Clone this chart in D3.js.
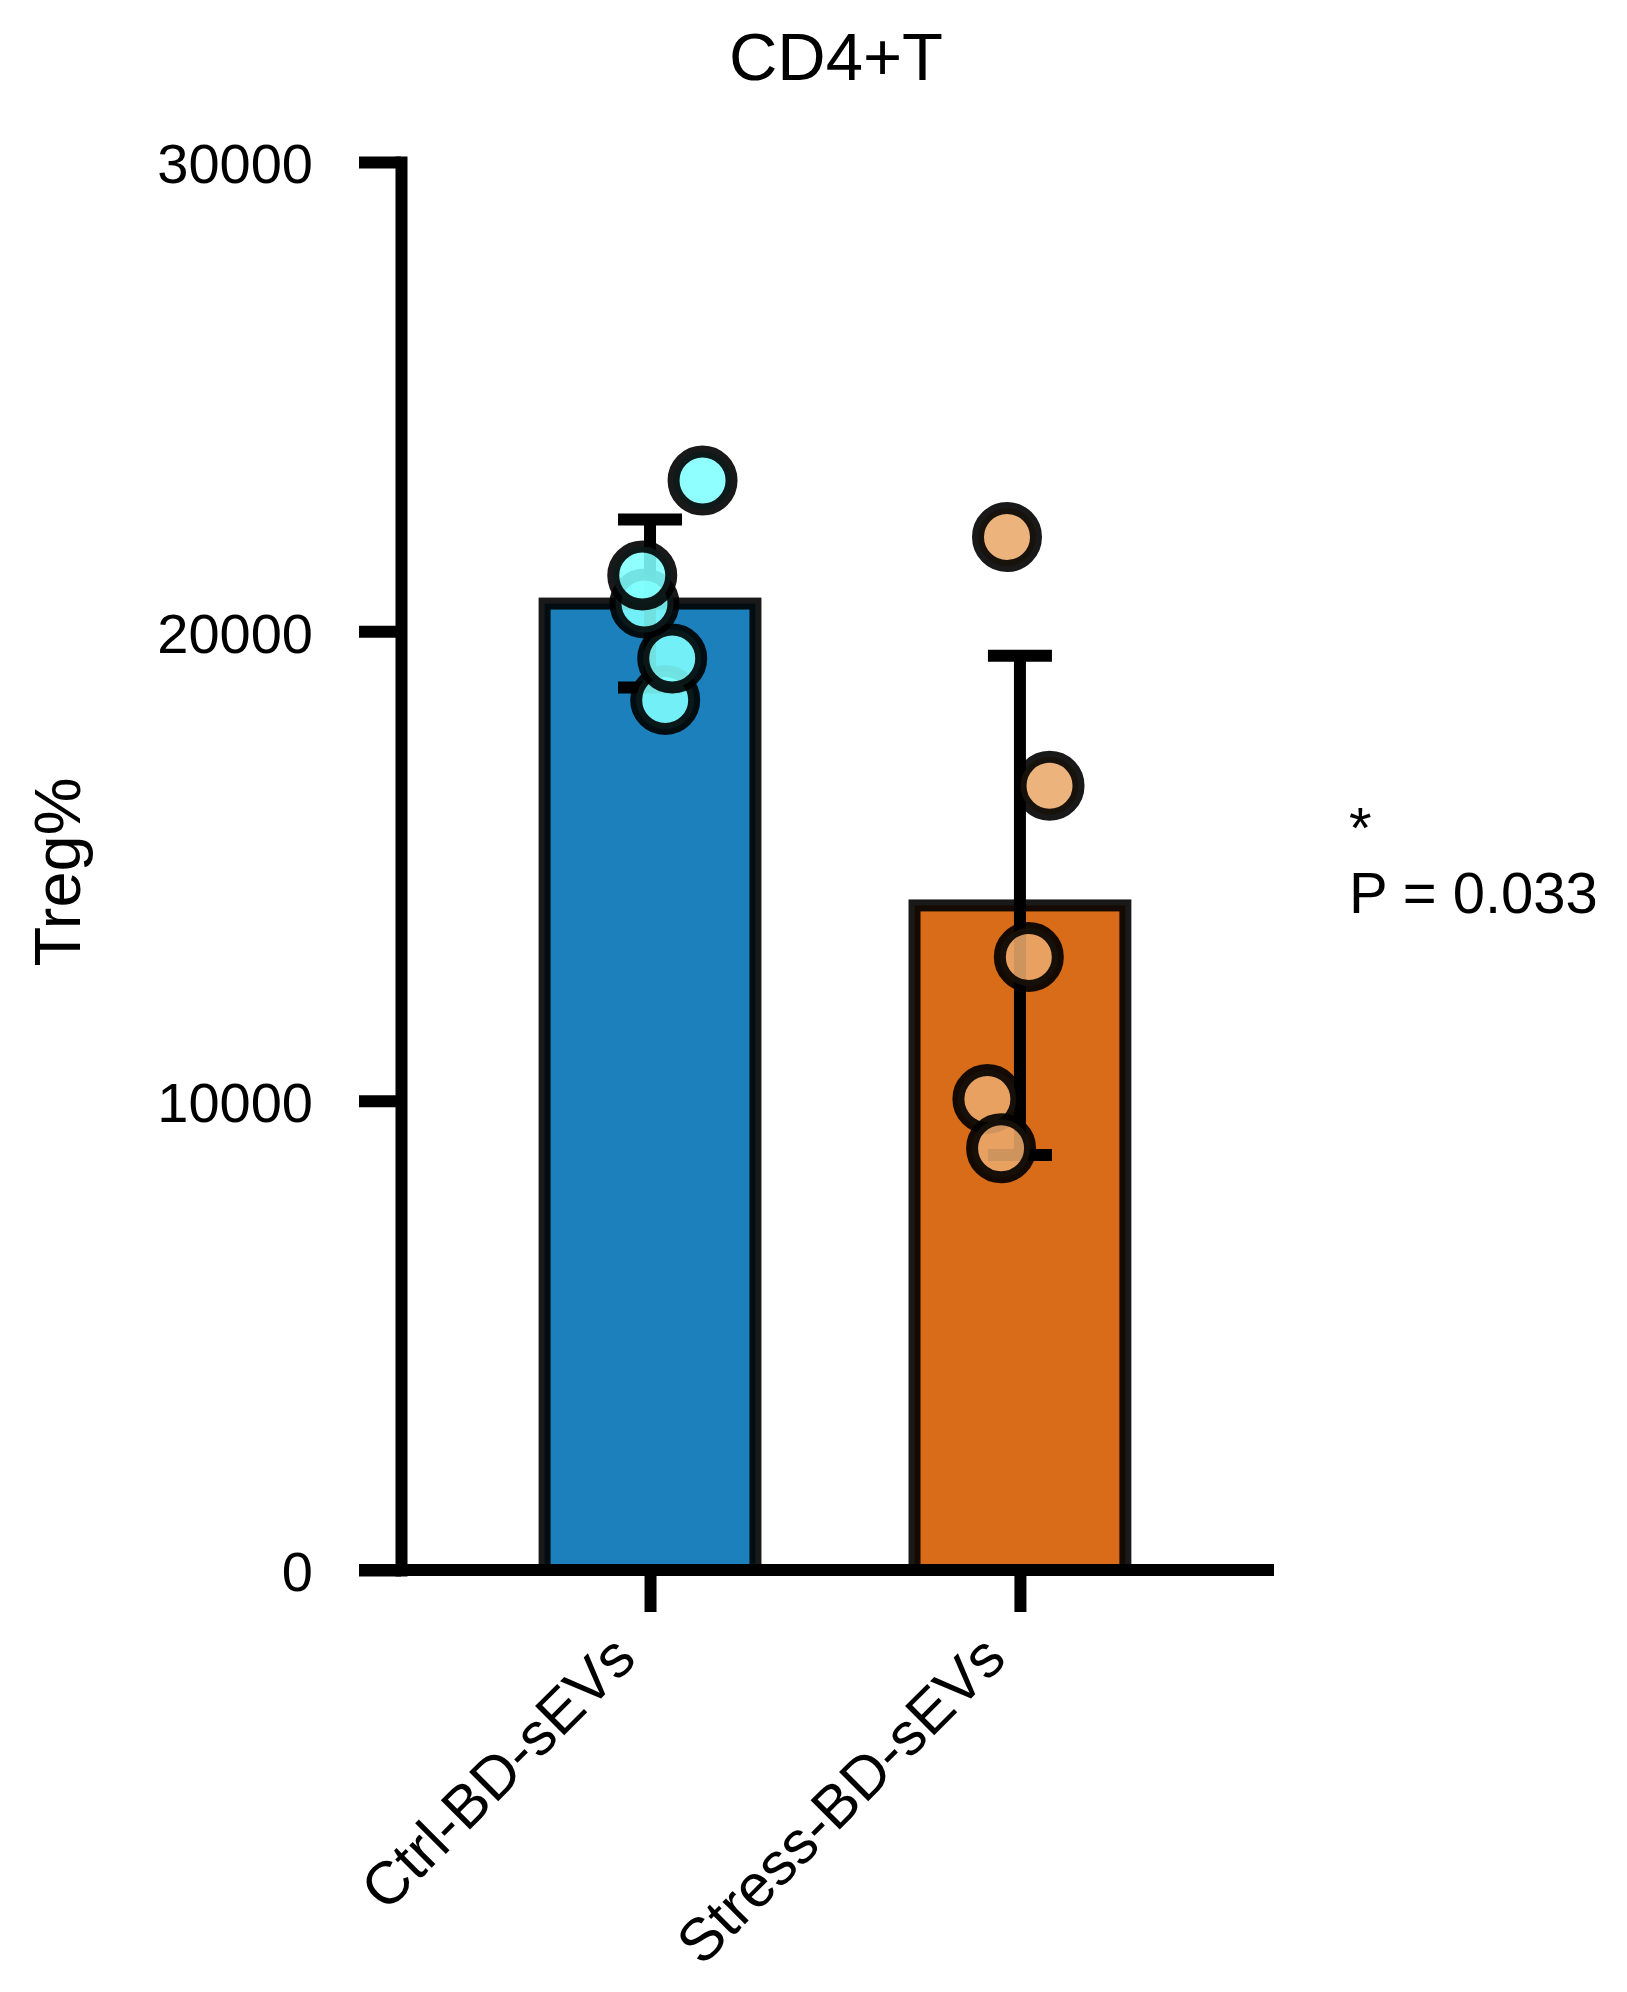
<!DOCTYPE html>
<html>
<head>
<meta charset="utf-8">
<script src="https://cdn.jsdelivr.net/npm/d3@7"></script>
<style>
  body { margin: 0; background: #fff; }
  text { font-family: "Liberation Sans", Arial, Helvetica, sans-serif; fill: #000; }
</style>
</head>
<body>
<svg id="chart" width="1627" height="1992"></svg>
<script>
// values
var groups = ["Ctrl-BD-sEVs", "Stress-BD-sEVs"];
var ctrlValues = [18537, 19423, 20594, 21190, 23213];
var stressValues = [22008, 16710, 13063, 10033, 8985];
// horizontal scatter of the dots, in fractions of the category step
var ctrlJitter = [0.041, 0.060, -0.015, -0.021, 0.142];
var stressJitter = [-0.035, 0.080, 0.024, -0.088, -0.051];
var yTicks = [0, 10000, 20000, 30000];
var titleText = "CD4+T";
var yLabelText = "Treg%";
var statLines = ["*", "P = 0.033"];

var barFill = ["#1b80bb", "#d86c19"];
var dotFill = ["#80ffff", "#eba96b"];

var svg = d3.select("#chart");

// note: "top" is taken by window.top, so use plot* names
var plotLeft = 401, plotRight = 1274, plotTop = 162, plotBottom = 1570;
var tickLen = 42;

var x = d3.scalePoint().domain(groups).range([plotLeft, plotRight]).padding(0.68).align(0.495);
var y = d3.scaleLinear().domain([0, 30000]).range([plotBottom, plotTop]);

var series = [ctrlValues, stressValues];
var jitters = [ctrlJitter, stressJitter];
var stats = groups.map(function(g, i) {
  return { group: g, mean: d3.mean(series[i]), sd: d3.deviation(series[i]), i: i };
});

var barW = x.step() * 0.57;

// bars
svg.append("g").selectAll("rect")
  .data(stats)
  .enter()
  .append("rect")
  .attr("x", function(d) { return x(d.group) - barW / 2; })
  .attr("y", function(d) { return y(d.mean); })
  .attr("width", barW)
  .attr("height", function(d) { return y(0) - y(d.mean); })
  .style("fill", function(d) { return barFill[d.i]; })
  .style("stroke", "#000")
  .style("stroke-opacity", 0.9)
  .style("stroke-width", 12);

// axes
var yAxis = svg.append("g")
  .attr("transform", "translate(" + plotLeft + ",0)")
  .call(d3.axisLeft(y).tickValues(yTicks).tickSize(tickLen).tickSizeOuter(0).tickPadding(46).tickFormat(d3.format("d")));
yAxis.select(".domain").style("stroke-width", 12).style("stroke-linecap", "square");
yAxis.selectAll(".tick line").style("stroke-width", 12);
yAxis.selectAll(".tick text").style("font-size", "56px").attr("dy", "0.37em");

var xAxis = svg.append("g")
  .attr("transform", "translate(0," + plotBottom + ")")
  .call(d3.axisBottom(x).tickSize(tickLen).tickSizeOuter(0));
xAxis.select(".domain")
  .attr("d", "M" + (plotLeft - tickLen) + ",0H" + plotRight)
  .style("stroke-width", 12);
xAxis.selectAll(".tick line").style("stroke-width", 12);
xAxis.selectAll(".tick text")
  .attr("y", null)
  .attr("dy", null)
  .attr("transform", "translate(-12,91) rotate(-45)")
  .style("text-anchor", "end")
  .style("font-size", "60px");
svg.selectAll(".domain, .tick line").style("stroke", "#000");

// error bars (mean +/- SD)
var capW = 64;
var eb = svg.append("g").selectAll("g")
  .data(stats)
  .enter()
  .append("g")
  .style("stroke", "#000")
  .style("stroke-width", 12);
eb.append("line")
  .attr("x1", function(d) { return x(d.group); })
  .attr("x2", function(d) { return x(d.group); })
  .attr("y1", function(d) { return y(d.mean - d.sd); })
  .attr("y2", function(d) { return y(d.mean + d.sd); });
eb.append("line")
  .attr("x1", function(d) { return x(d.group) - capW / 2; })
  .attr("x2", function(d) { return x(d.group) + capW / 2; })
  .attr("y1", function(d) { return y(d.mean + d.sd); })
  .attr("y2", function(d) { return y(d.mean + d.sd); });
eb.append("line")
  .attr("x1", function(d) { return x(d.group) - capW / 2; })
  .attr("x2", function(d) { return x(d.group) + capW / 2; })
  .attr("y1", function(d) { return y(d.mean - d.sd); })
  .attr("y2", function(d) { return y(d.mean - d.sd); });

// dots
var dots = [];
groups.forEach(function(g, i) {
  series[i].forEach(function(v, j) {
    dots.push({ group: g, value: v, jit: jitters[i][j], i: i });
  });
});
svg.append("g").selectAll("circle")
  .data(dots)
  .enter()
  .append("circle")
  .attr("cx", function(d) { return x(d.group) + d.jit * x.step(); })
  .attr("cy", function(d) { return y(d.value); })
  .attr("r", 29)
  .style("fill", function(d) { return dotFill[d.i]; })
  .style("fill-opacity", 0.88)
  .style("stroke", "#000")
  .style("stroke-opacity", 0.9)
  .style("stroke-width", 12);

// texts
svg.append("text")
  .attr("x", 836)
  .attr("y", 80)
  .style("text-anchor", "middle")
  .style("font-size", "67px")
  .text(titleText);

svg.append("text")
  .attr("transform", "translate(80,872) rotate(-90)")
  .style("text-anchor", "middle")
  .style("font-size", "65px")
  .text(yLabelText);

svg.append("text")
  .style("font-size", "58px")
  .selectAll("tspan")
  .data(statLines)
  .enter()
  .append("tspan")
  .attr("x", 1349)
  .attr("y", function(d, i) { return 848 + i * 65; })
  .text(function(d) { return d; });
</script>
</body>
</html>
